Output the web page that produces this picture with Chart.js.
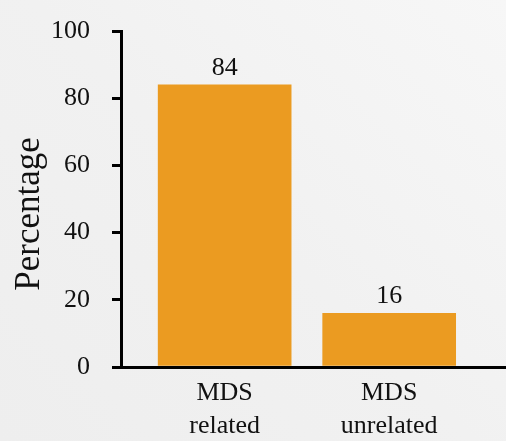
<!DOCTYPE html>
<html>
<head>
<meta charset="utf-8">
<script src="https://cdn.jsdelivr.net/npm/chart.js@4/dist/chart.umd.min.js"></script>
<style>
  html, body { margin: 0; padding: 0; }
  body {
    width: 506px; height: 441px; overflow: hidden;
    background: linear-gradient(225deg, #f7f7f7 0%, #f1f1f1 50%, #eeeeee 100%);
  }
  #wrap { position: relative; width: 506px; height: 441px; }
</style>
</head>
<body>
<div id="wrap"><canvas id="chart" width="506" height="441"></canvas></div>
<script>
// Share of cases, by MDS relation
const categories = [['MDS', 'related'], ['MDS', 'unrelated']];
const percentages = [84, 16];
const yTicks = [0, 20, 40, 60, 80, 100];
const yTitle = 'Percentage';

const FONT = '"Liberation Serif", "Times New Roman", serif';
const INK = '#111111';
const BAR = '#EB9B21';

// Value labels written above each bar
const valueLabels = {
  id: 'valueLabels',
  afterDatasetsDraw(chart) {
    const ctx = chart.ctx;
    const meta = chart.getDatasetMeta(0);
    ctx.save();
    ctx.font = '26px ' + FONT;
    ctx.fillStyle = INK;
    ctx.textAlign = 'center';
    ctx.textBaseline = 'alphabetic';
    meta.data.forEach((bar, i) => {
      ctx.fillText(String(percentages[i]), bar.x, bar.y - 10);
    });
    ctx.restore();
  }
};

// Rotated y-axis title, set a little below the middle of the axis
const axisTitle = {
  id: 'axisTitle',
  afterDraw(chart) {
    const ctx = chart.ctx;
    const y = chart.scales.y;
    ctx.save();
    ctx.font = '35px ' + FONT;
    ctx.fillStyle = INK;
    ctx.textAlign = 'center';
    ctx.textBaseline = 'alphabetic';
    ctx.translate(39, (y.top + y.bottom) / 2 + 15);
    ctx.rotate(-Math.PI / 2);
    ctx.fillText(yTitle, 0, 0);
    ctx.restore();
  }
};

new Chart(document.getElementById('chart'), {
  type: 'bar',
  data: {
    datasets: [{
      data: percentages.map((v, i) => ({ x: i, y: v })),
      backgroundColor: BAR,
      borderWidth: 0,
      barThickness: 133
    }]
  },
  options: {
    responsive: false,
    animation: false,
    devicePixelRatio: 1,
    layout: { padding: { top: 31, right: 0, left: 0, bottom: 0 } },
    plugins: { legend: { display: false }, tooltip: { enabled: false } },
    scales: {
      x: {
        type: 'linear',
        offset: false,
        min: -0.63,
        max: 1.71,
        afterBuildTicks(scale) {
          scale.ticks = categories.map((_, i) => ({ value: i }));
        },
        afterFit(scale) { scale.height = 74; },
        grid: { display: false, drawTicks: false, offset: false },
        border: { display: true, color: '#000', width: 3 },
        ticks: {
          color: INK,
          font: { family: FONT, size: 26, lineHeight: 1.29 },
          padding: 9,
          maxRotation: 0,
          autoSkip: false,
          callback: (v) => categories[v]
        }
      },
      y: {
        min: 0,
        max: 100,
        afterBuildTicks(scale) {
          scale.ticks = yTicks.map(v => ({ value: v }));
        },
        afterFit(scale) {
          scale.width = 121;
          scale.paddingTop = 0;
          scale.paddingBottom = 0;
        },
        grid: {
          display: true,
          drawOnChartArea: false,
          drawTicks: true,
          tickLength: 9,
          tickWidth: 3,
          tickColor: '#000',
          lineWidth: 3,
          color: '#000'
        },
        border: { display: true, color: '#000', width: 3 },
        ticks: {
          color: INK,
          font: { family: FONT, size: 26 },
          padding: 22
        },
        title: { display: false }
      }
    }
  },
  plugins: [valueLabels, axisTitle]
});
</script>
</body>
</html>
